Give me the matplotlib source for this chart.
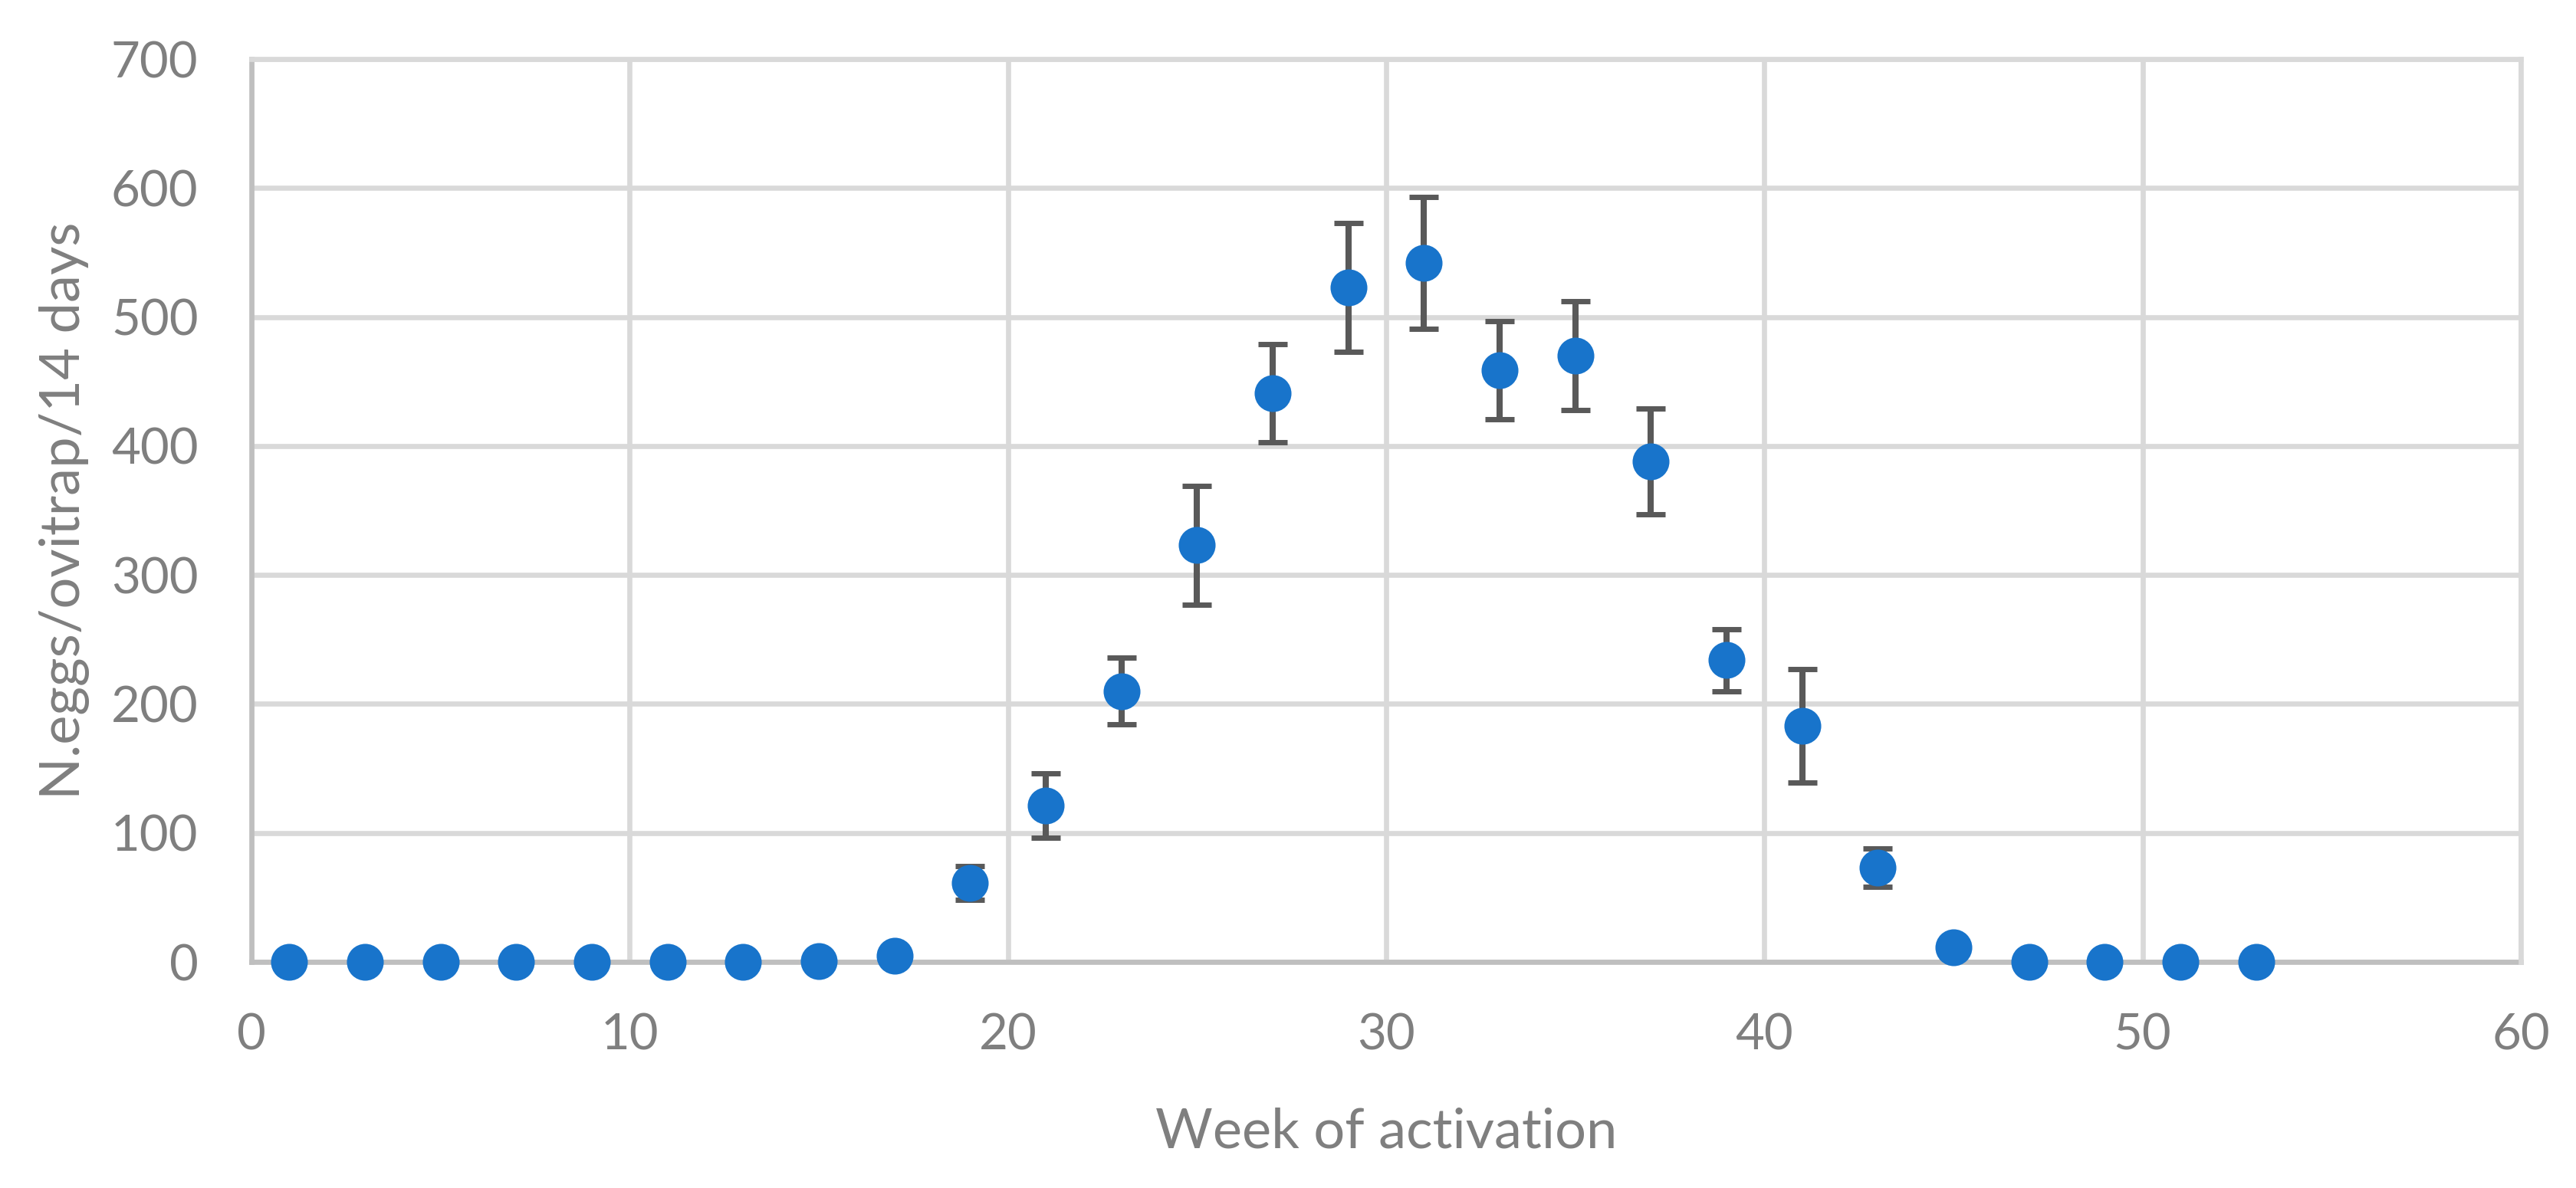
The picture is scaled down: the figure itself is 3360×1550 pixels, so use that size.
import matplotlib
matplotlib.use("Agg")
import matplotlib.pyplot as plt
import numpy as np

# week of activation (every two weeks)
weeks = [1, 3, 5, 7, 9, 11, 13, 15, 17, 19, 21, 23, 25, 27,
         29, 31, 33, 35, 37, 39, 41, 43, 45, 47, 49, 51, 53]
# mean number of eggs per ovitrap per 14 days
eggs = [0, 0, 0, 0, 0, 0, 0, 0.5, 4.5, 61, 121, 210, 323, 441,
        523, 542, 459, 470, 388, 234, 183, 73, 11, 0, 0, 0, 0]
# error bar half-widths
errs = [0, 0, 0, 0, 0, 0, 0, 0, 0, 13, 25, 26, 46, 38,
        50, 51, 38, 42, 41, 24, 44, 15, 0, 0, 0, 0, 0]

xticks = [0, 10, 20, 30, 40, 50, 60]
yticks = [0, 100, 200, 300, 400, 500, 600, 700]

TEXT = "#7F7F7F"
GRID = "#D9D9D9"
AXIS = "#BFBFBF"
BLUE = "#1874CB"
ERRC = "#595959"

plt.rcParams["font.family"] = ["Lato", "DejaVu Sans"]

fig = plt.figure(figsize=(16.8, 7.75), dpi=200)
ax = fig.add_axes([328 / 3360, 1 - 1255 / 1550, 2960 / 3360, 1178 / 1550])

ax.set_xlim(0, 60)
ax.set_ylim(0, 700)
ax.set_xticks(xticks)
ax.set_yticks(yticks)

ax.grid(True, color=GRID, linewidth=2.4, zorder=0)
ax.set_axisbelow(True)

for side in ["top", "right"]:
    ax.spines[side].set_color(GRID)
    ax.spines[side].set_linewidth(2.4)
for side in ["left", "bottom"]:
    ax.spines[side].set_color(AXIS)
    ax.spines[side].set_linewidth(2.4)
    ax.spines[side].set_zorder(1)

w = np.array(weeks)
y = np.array(eggs)
e = np.array(errs)
has_err = e > 0
ax.errorbar(w[has_err], y[has_err], yerr=e[has_err], fmt="none",
            ecolor=ERRC, elinewidth=2.9, capsize=7, capthick=2.5, zorder=3)
ax.plot(w, y, linestyle="none", marker="o", markersize=17.3,
        markerfacecolor=BLUE, markeredgecolor=BLUE, markeredgewidth=0,
        zorder=4, clip_on=False)

ax.tick_params(axis="both", length=0, labelsize=23.5, labelcolor=TEXT)
ax.tick_params(axis="x", pad=24)
ax.tick_params(axis="y", pad=25)

ax.set_xlabel("Week of activation", fontsize=26, color=TEXT, labelpad=23)
ax.set_ylabel("N.eggs/ovitrap/14 days", fontsize=26, color=TEXT, labelpad=10)

fig.savefig("out.png", dpi=200, facecolor="white")
plt.close(fig)
